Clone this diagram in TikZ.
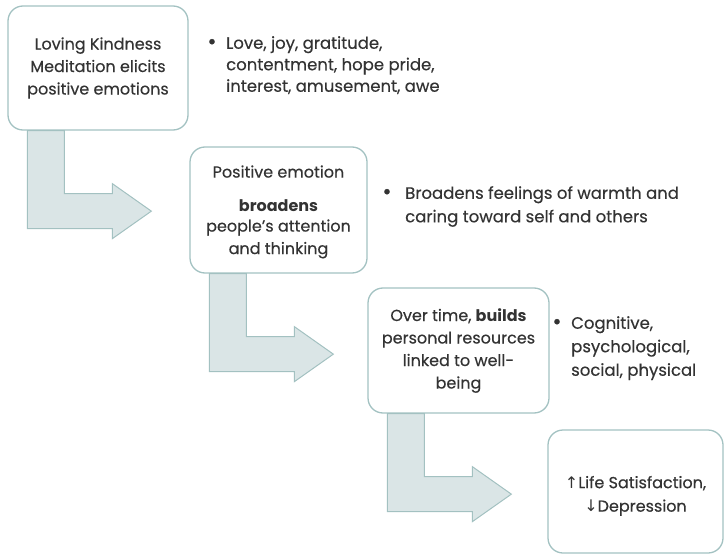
\documentclass[tikz,border=0pt]{standalone}
\usepackage{fontspec}
\setmainfont{Poppins}[UprightFeatures={FakeBold=0.4}]
\newfontfamily\arrowfont{DejaVu Sans}
\usetikzlibrary{calc,backgrounds}

\definecolor{boxline}{HTML}{A3C2C2}
\definecolor{arrowfill}{HTML}{DAE5E6}
\definecolor{arrowline}{HTML}{A3C1C1}
\definecolor{inkgray}{HTML}{333333}

\tikzset{
  stage/.style={draw=boxline, line width=1.3pt, rounded corners=15pt,
    align=center, text=inkgray, inner sep=0pt,
    font=\fontsize{16}{22.5}\selectfont},
  dot/.style={text=inkgray, inner sep=0pt, font=\fontsize{22}{22}\selectfont},
  points/.style={anchor=north west, align=left, text=inkgray, inner sep=0pt,
    font=\fontsize{16.5}{22.5}\selectfont},
  bentarrow/.style={fill=arrowfill, draw=arrowline, line width=1pt}
}

% L-shaped arrow hanging under a stage box
\newcommand{\bentarrow}[1]{%
  \draw[bentarrow] ($(#1.south west)+(20,0)$) -- ++(37,0) -- ++(0,63)
    -- ++(48,0) -- ++(0,-10) -- ++(39,27.5) -- ++(-39,27.5) -- ++(0,-10)
    -- ++(-85,0) -- cycle;}

\begin{document}
\begin{tikzpicture}[x=1pt, y=-1pt]
\useasboundingbox (0,0) rectangle (725,556);

% stages
\node[stage, minimum width=180, minimum height=124] (lkm) at (98,68)
  {Loving Kindness\\Meditation elicits\\positive emotions};
\node[stage, minimum width=177, minimum height=126] (broaden) at (278.5,210)
  {\rule{0pt}{16pt}Positive emotion\\[11pt]\textbf{broadens}\\[-2pt]people’s attention\\and thinking};
\node[stage, minimum width=181, minimum height=125] (build) at (458.5,350.5)
  {Over time, \textbf{builds}\\personal resources\\linked to well-\\being};
\node[stage, minimum width=175, minimum height=123] (outcome) at (635.5,491.5)
  {\rule{0pt}{21pt}{\arrowfont ↑}Life Satisfaction,\\[1pt]{\arrowfont ↓}Depression};

% bullet notes
\node[dot] (dot1) at (212,44) {•};
\node[points] (note1) at (226,36)
  {Love, joy, gratitude,\\[-1pt]contentment, hope pride,\\[-1pt]interest, amusement, awe};
\node[dot] (dot2) at (387,194) {•};
\node[points] (note2) at (405,186)
  {Broadens feelings of warmth and\\[1pt]caring toward self and others};
\node[dot] (dot3) at (557,324) {•};
\node[points] (note3) at (571,316)
  {Cognitive,\\[1pt]psychological,\\[1pt]social, physical};

% arrows between stages
\begin{scope}[on background layer]
  \bentarrow{lkm}
  \bentarrow{broaden}
  \bentarrow{build}
\end{scope}
\end{tikzpicture}
\end{document}
